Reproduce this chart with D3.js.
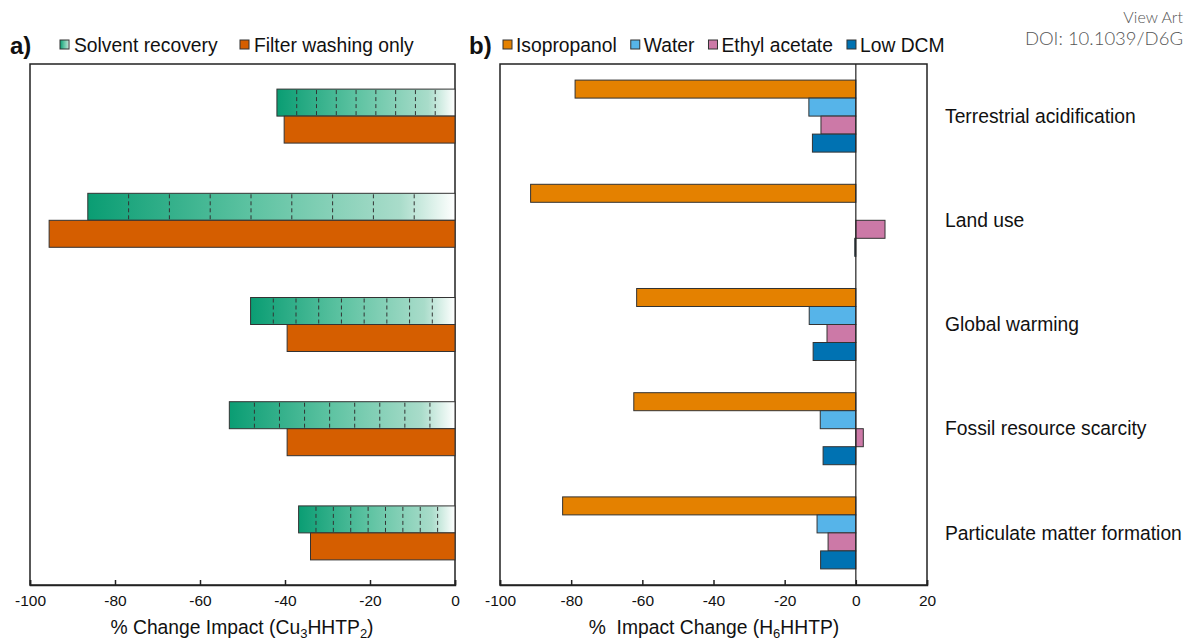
<!DOCTYPE html>
<html>
<head>
<meta charset="utf-8">
<script src="https://cdn.jsdelivr.net/npm/d3@7"></script>
<style>
  body { margin: 0; background: #fff; }
  svg { display: block; font-family: "Liberation Sans", Arial, sans-serif; }
</style>
</head>
<body>
<div id="chart"></div>
<script>
'use strict';

// Impact categories (top to bottom)
var categories = ['Terrestrial acidification', 'Land use', 'Global warming',
	'Fossil resource scarcity', 'Particulate matter formation'];

// Panel a: % change impact (Cu3HHTP2)
var seriesA = ['Solvent recovery', 'Filter washing only'];
var solventRecovery = [-41.9, -86.4, -48.1, -53.1, -36.8];
var filterWashing = [-40.2, -95.5, -39.5, -39.5, -34.0];
var recoverySteps = 9; // dashed sub-divisions inside each solvent recovery bar

// Panel b: % impact change (H6HHTP)
var seriesB = ['Isopropanol', 'Water', 'Ethyl acetate', 'Low DCM'];
var isopropanol = [-78.9, -91.4, -61.6, -62.4, -82.4];
var water = [-13.2, 0, -13.1, -10.0, -10.9];
var ethylAcetate = [-9.8, 8.2, -8.1, 2.1, -7.8];
var lowDCM = [-12.2, -0.3, -12.0, -9.2, -9.9];

var ticksA = [-100, -80, -60, -40, -20, 0];
var ticksB = [-100, -80, -60, -40, -20, 0, 20];

var colorsB = ['#e48100', '#56b4e9', '#cc79a7', '#0072b2'];
var orangeA = '#d55e00';

var W = 1184, H = 640;
var plotTop = 64, plotBottom = 585;
var fontSize = 19.3;

var svg = d3.select('#chart').append('svg')
	.attr('width', W)
	.attr('height', H);

// Gradient for solvent recovery bars
var defs = svg.append('defs');
var grad = defs.append('linearGradient')
	.attr('id', 'greenGrad')
	.attr('x1', 0).attr('x2', 1).attr('y1', 0).attr('y2', 0);
grad.append('stop').attr('offset', 0).attr('stop-color', '#0a9d73');
grad.append('stop').attr('offset', 0.45).attr('stop-color', '#5ec3a2');
grad.append('stop').attr('offset', 0.85).attr('stop-color', '#a9dcca');
grad.append('stop').attr('offset', 1).attr('stop-color', '#ffffff');

var y = d3.scaleBand().domain(categories).range([plotTop, plotBottom]);

function styleAxis(g) {
	g.select('.domain').attr('stroke', '#222').attr('stroke-width', 1.5);
	g.selectAll('.tick line').attr('stroke', '#222').attr('stroke-width', 1.5);
	g.selectAll('.tick text')
		.attr('font-family', '"Liberation Sans", Arial, sans-serif')
		.attr('font-size', 15.5)
		.attr('fill', '#111');
}

// ---------- Panel a ----------
var xA = d3.scaleLinear().domain([-100, 0]).range([30, 455]);
var yA = d3.scaleBand().domain(seriesA).range([0, y.bandwidth()]).paddingOuter(0.93);

var ga = svg.append('g');

ga.append('rect')
	.attr('x', xA(-100)).attr('y', plotTop)
	.attr('width', xA(0) - xA(-100)).attr('height', plotBottom - plotTop)
	.attr('fill', 'none').attr('stroke', '#222').attr('stroke-width', 1.5);

categories.forEach(function(c, i) {
	var y0 = y(c) + yA('Solvent recovery');
	var v = solventRecovery[i];
	var bw = xA(0) - xA(v);
	ga.append('rect')
		.attr('x', xA(v)).attr('y', y0)
		.attr('width', bw).attr('height', yA.bandwidth())
		.attr('fill', 'url(#greenGrad)')
		.attr('stroke', '#333').attr('stroke-width', 1);
	d3.range(1, recoverySteps).forEach(function(k) {
		var xs = xA(v) + bw * k / recoverySteps;
		ga.append('line')
			.attr('x1', xs).attr('x2', xs)
			.attr('y1', y0 + 1).attr('y2', y0 + yA.bandwidth() - 1)
			.attr('stroke', '#333').attr('stroke-width', 1)
			.attr('stroke-dasharray', '4,3');
	});
	ga.append('rect')
		.attr('x', xA(filterWashing[i])).attr('y', y(c) + yA('Filter washing only'))
		.attr('width', xA(0) - xA(filterWashing[i])).attr('height', yA.bandwidth())
		.attr('fill', orangeA)
		.attr('stroke', '#333').attr('stroke-width', 1);
});

ga.append('g')
	.attr('transform', 'translate(0,' + plotBottom + ')')
	.call(d3.axisBottom(xA).tickValues(ticksA).tickSize(-5).tickPadding(10).tickFormat(String))
	.call(styleAxis);

var titleA = ga.append('text')
	.attr('x', 242).attr('y', 634)
	.attr('text-anchor', 'middle')
	.attr('font-size', fontSize).attr('fill', '#111');
titleA.append('tspan').text('% Change Impact (Cu');
titleA.append('tspan').attr('font-size', 13).attr('dy', 4).text('3');
titleA.append('tspan').attr('dy', -4).text('HHTP');
titleA.append('tspan').attr('font-size', 13).attr('dy', 4).text('2');
titleA.append('tspan').attr('dy', -4).text(')');

// legend a
ga.append('text').attr('x', 10).attr('y', 54)
	.attr('font-size', 24).attr('font-weight', 'bold').attr('fill', '#111').text('a)');
var legA = [
	{label: seriesA[0], fill: 'url(#greenGrad)', x: 60},
	{label: seriesA[1], fill: orangeA, x: 240}
];
legA.forEach(function(d) {
	ga.append('rect').attr('x', d.x).attr('y', 40).attr('width', 9).attr('height', 9)
		.attr('fill', d.fill).attr('stroke', '#333').attr('stroke-width', 1);
	ga.append('text').attr('x', d.x + 14).attr('y', 51.5)
		.attr('font-size', fontSize).attr('fill', '#111').text(d.label);
});

// ---------- Panel b ----------
var xB = d3.scaleLinear().domain([-100, 20]).range([500, 927]);
var yB = d3.scaleBand().domain(seriesB).range([0, y.bandwidth()]).paddingOuter(0.894);
var valuesB = [isopropanol, water, ethylAcetate, lowDCM];

var gb = svg.append('g');

gb.append('rect')
	.attr('x', xB(-100)).attr('y', plotTop)
	.attr('width', xB(20) - xB(-100)).attr('height', plotBottom - plotTop)
	.attr('fill', 'none').attr('stroke', '#222').attr('stroke-width', 1.5);

categories.forEach(function(c, i) {
	seriesB.forEach(function(s, j) {
		var v = valuesB[j][i];
		if (v === 0) return;
		gb.append('rect')
			.attr('x', xB(Math.min(0, v))).attr('y', y(c) + yB(s))
			.attr('width', Math.abs(xB(v) - xB(0))).attr('height', yB.bandwidth())
			.attr('fill', colorsB[j])
			.attr('stroke', '#333').attr('stroke-width', 1);
	});
	gb.append('text')
		.attr('x', 945).attr('y', y(c) + y.bandwidth() / 2)
		.attr('dy', '0.35em')
		.attr('font-size', fontSize).attr('fill', '#111')
		.text(c);
});

gb.append('line')
	.attr('x1', xB(0)).attr('x2', xB(0))
	.attr('y1', plotTop).attr('y2', plotBottom)
	.attr('stroke', '#222').attr('stroke-width', 1.2);

gb.append('g')
	.attr('transform', 'translate(0,' + plotBottom + ')')
	.call(d3.axisBottom(xB).tickValues(ticksB).tickSize(-5).tickPadding(10).tickFormat(String))
	.call(styleAxis);

var titleB = gb.append('text')
	.attr('x', 714).attr('y', 634)
	.attr('text-anchor', 'middle')
	.attr('font-size', fontSize).attr('fill', '#111')
	.attr('xml:space', 'preserve');
titleB.append('tspan').text('%  Impact Change (H');
titleB.append('tspan').attr('font-size', 13).attr('dy', 4).text('6');
titleB.append('tspan').attr('dy', -4).text('HHTP)');

// legend b
gb.append('text').attr('x', 469).attr('y', 54)
	.attr('font-size', 24).attr('font-weight', 'bold').attr('fill', '#111').text('b)');
var lx = 503;
seriesB.forEach(function(s, j) {
	gb.append('rect').attr('x', lx).attr('y', 40).attr('width', 9).attr('height', 9)
		.attr('fill', colorsB[j]).attr('stroke', '#333').attr('stroke-width', 1);
	var t = gb.append('text').attr('x', lx + 13).attr('y', 51.5)
		.attr('font-size', fontSize).attr('fill', '#111').text(s);
	lx += 13 + t.node().getComputedTextLength() + 14;
});

// page header text (as much as shows at the right edge)
svg.append('text').attr('x', 1183).attr('y', 23)
	.attr('text-anchor', 'end')
	.attr('font-family', 'Lato, "Open Sans", sans-serif').attr('font-weight', 300)
	.attr('font-size', 16).attr('fill', '#555').text('View Art');
svg.append('text').attr('x', 1183).attr('y', 45)
	.attr('text-anchor', 'end')
	.attr('font-family', 'Lato, "Open Sans", sans-serif').attr('font-weight', 300)
	.attr('font-size', 18.5).attr('fill', '#555').text('DOI: 10.1039/D6G');
</script>
</body>
</html>
